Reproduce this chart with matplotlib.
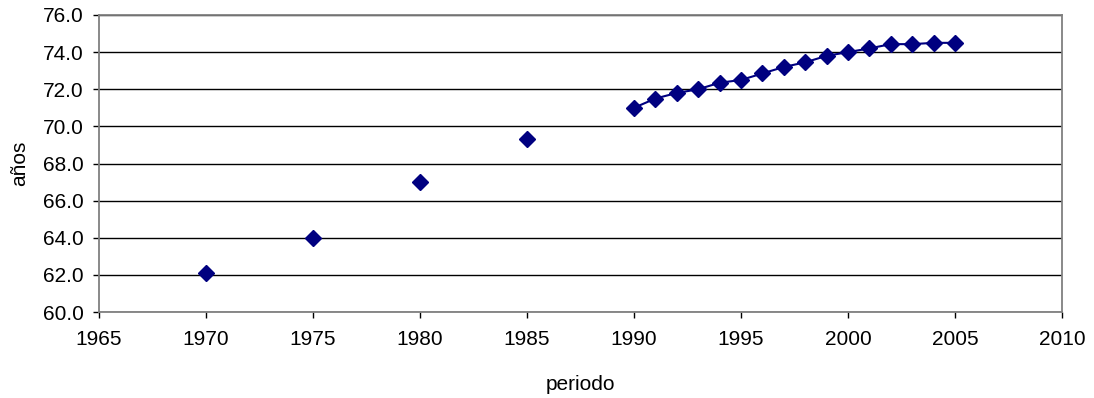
import matplotlib.pyplot as plt

plt.rcParams['font.family'] = ['Liberation Sans', 'DejaVu Sans']

# quinquennial estimates (markers only)
early_years = [1970, 1975, 1980, 1985]
early_vals = [62.1, 64.0, 67.0, 69.3]

# annual series (line + markers)
years = list(range(1990, 2006))
vals = [71.0, 71.5, 71.8, 72.0, 72.35, 72.5, 72.85, 73.2, 73.45,
        73.8, 74.0, 74.2, 74.43, 74.43, 74.5, 74.5]

color = '#000080'

fig = plt.figure(figsize=(10.94, 3.98), dpi=100)
ax = fig.add_axes([99 / 1094, 1 - 312 / 398, 963 / 1094, 297 / 398])

ax.plot(early_years, early_vals, linestyle='none', marker='D',
        markersize=8.5, color=color, zorder=3, clip_on=False)
ax.plot(years, vals, linestyle='-', linewidth=1.5, marker='D',
        markersize=8.5, color=color, zorder=3, clip_on=False)

ax.set_xlim(1965, 2010)
ax.set_ylim(60, 76)
ax.set_xticks(range(1965, 2011, 5))
ax.set_yticks([60 + 2 * i for i in range(9)])
ax.set_yticklabels([f'{60 + 2 * i:.1f}' for i in range(9)])
ax.yaxis.grid(True, color='black', linewidth=1)
ax.set_axisbelow(True)

for side in ['top', 'right', 'left', 'bottom']:
    ax.spines[side].set_color('#808080')
    ax.spines[side].set_linewidth(1.3)

ax.tick_params(axis='both', direction='out', length=4, width=1,
               labelsize=15, color='black')
ax.tick_params(axis='x', pad=9)
ax.tick_params(axis='y', pad=7)

ax.set_xlabel('periodo', fontsize=15, labelpad=19)
ax.set_ylabel('años', fontsize=15, labelpad=10)

fig.savefig('out.png', dpi=100)
